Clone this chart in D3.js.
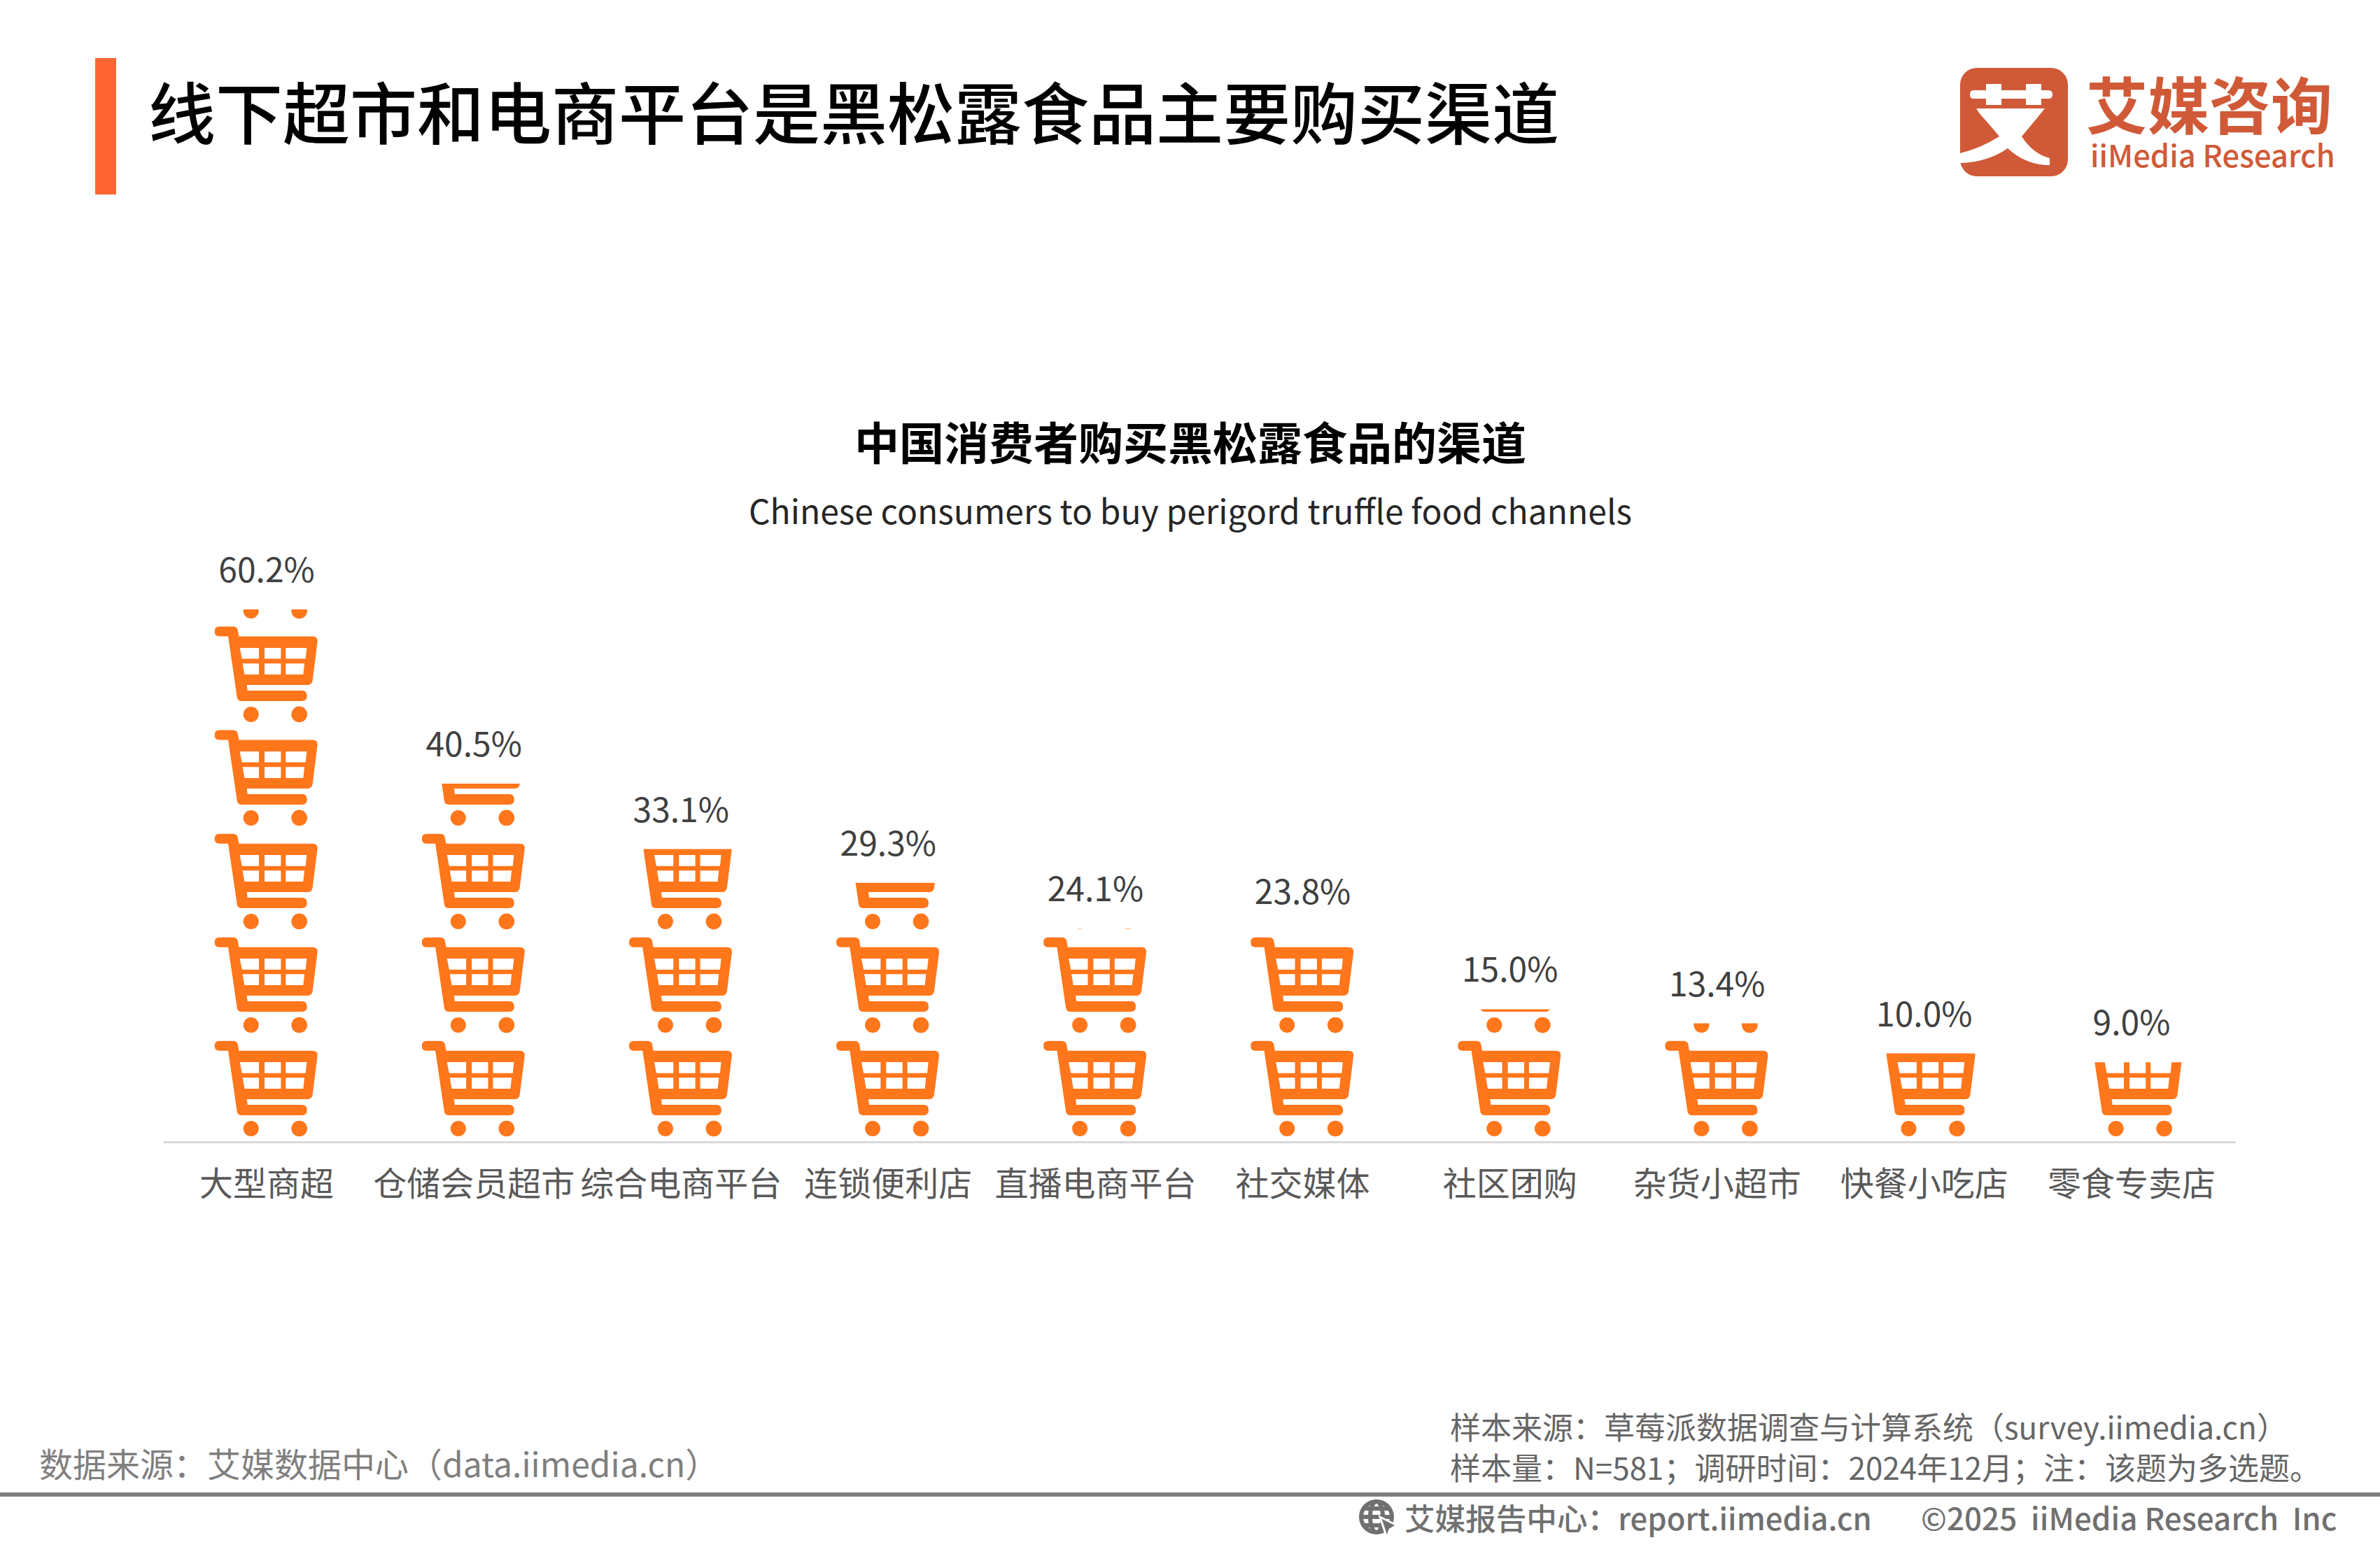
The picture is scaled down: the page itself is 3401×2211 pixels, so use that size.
<!DOCTYPE html>
<html lang="zh"><head><meta charset="utf-8">
<script src="https://cdn.jsdelivr.net/npm/d3@7/dist/d3.min.js"></script>
<style>html,body{margin:0;padding:0;background:#fff}svg{display:block}text{font-family:"Noto Sans CJK SC","Noto Sans",sans-serif}</style>
</head><body><svg id="c" width="3401" height="2211" viewBox="0 0 3401 2211"></svg>
<script>
const categories = ["大型商超","仓储会员超市","综合电商平台","连锁便利店","直播电商平台","社交媒体","社区团购","杂货小超市","快餐小吃店","零食专卖店"];
const values = [60.2,40.5,33.1,29.3,24.1,23.8,15.0,13.4,10.0,9.0];
const valueLabels = ["60.2%","40.5%","33.1%","29.3%","24.1%","23.8%","15.0%","13.4%","10.0%","9.0%"];
const titleText = "线下超市和电商平台是黑松露食品主要购买渠道";
const chartTitle = "中国消费者购买黑松露食品的渠道";
const chartSubtitle = "Chinese consumers to buy perigord truffle food channels";
const sourceLeft = "数据来源：艾媒数据中心（data.iimedia.cn）";
const sourceRight = ["样本来源：草莓派数据调查与计算系统（survey.iimedia.cn）","样本量：N=581；调研时间：2024年12月；注：该题为多选题。"];
const footerLeft = "艾媒报告中心：report.iimedia.cn";
const footerRight = "©2025  iiMedia Research  Inc";
const valuePerCart = 11.71;

const svg = d3.select("#c");
svg.append("rect").attr("width",3401).attr("height",2211).attr("fill","#fff");

// header
svg.append("rect").attr("x",136).attr("y",83).attr("width",30).attr("height",195).attr("fill","#FF6633");
svg.append("text").attr("x",212).attr("y",198).attr("font-size",96).attr("font-weight",500).attr("fill","#000").text(titleText);

// logo
const logo = svg.append("g");
logo.append("rect").attr("x",2801).attr("y",97).attr("width",154).attr("height",155).attr("rx",24).attr("fill","#D05A38");
logo.append("path").attr("fill","#fff").attr("d",
 "M2820 129H2838V120H2860V129H2895V120H2917V129H2927Q2933 129 2933 135Q2933 141 2927 141H2917V150H2895V141H2860V150H2838V141H2820Q2815 141 2815 135Q2815 129 2820 129Z"+
 "M2824 155H2922Q2910 170 2889 195Q2905 220 2929 226V236Q2895 236 2869 212Q2840 232 2801 233V219Q2830 212 2857 195Q2843 178 2832 166Q2828 162 2824 155Z");
logo.append("text").attr("x",2981).attr("y",184).attr("font-size",88).attr("font-weight",700).attr("fill","#D05A38").text("艾媒咨询");
logo.append("text").attr("x",2987).attr("y",239).attr("font-size",43.5).attr("font-weight",500).attr("fill","#D05A38").text("iiMedia Research");

// titles
svg.append("text").attr("x",1701).attr("y",657).attr("text-anchor","middle").attr("font-size",64).attr("font-weight",700).attr("fill","#000").text(chartTitle);
svg.append("text").attr("x",1701).attr("y",749).attr("text-anchor","middle").attr("font-size",48).attr("fill","#262626").text(chartSubtitle);

// scales
const x = d3.scaleBand().domain(categories).range([233,3194]);
const y = d3.scaleLinear().domain([0,100]).range([1632,368]);

// axis
const axis = svg.append("g").attr("transform",`translate(0,${y(0)})`).call(d3.axisBottom(x).tickSize(0).tickPadding(43));
axis.select(".domain").attr("stroke","#D9D9D9").attr("stroke-width",3);
axis.selectAll("text").attr("font-size",48).attr("fill","#595959").attr("font-family",'"Noto Sans CJK SC",sans-serif');

// cart symbol (local coordinates centred at the cart, bottom of the slot = 0)
const cartPath =
 "M100 145H160Q178 145 180 165L184 187H500Q522 187 521 208L500 375Q497 395 480 395H218L221 419H455Q476 419 476 442Q476 464 455 464H195Q178 464 176 447L138 187H100Q80 187 80 166Q80 145 100 145Z"+
 "M188 236H270V283H197Z M294 236H364V283H294Z M385 236H475L470 283H385Z"+
 "M200 303H270V350H208Z M294 303H364V350H294Z M385 303H465L460 350H385Z"+
 "M203 521A33 33 0 1 0 269 521A33 33 0 1 0 203 521Z M409 521A34 34 0 1 0 477 521A34 34 0 1 0 409 521Z";
const defs = svg.append("defs");
defs.append("path").attr("id","cart").attr("fill-rule","evenodd").attr("d",cartPath)
    .attr("transform","translate(-100,-192.67) scale(0.3333)");

const columns = svg.selectAll("g.col").data(categories.map((c,i)=>({c,v:values[i],l:valueLabels[i],i}))).join("g").attr("class","col");
columns.each(function(d){
  const g = d3.select(this);
  const cx = x(d.c)+x.bandwidth()/2;
  defs.append("clipPath").attr("id","clip"+d.i).append("rect")
    .attr("x",x(d.c)).attr("width",x.bandwidth()).attr("y",y(d.v)).attr("height",y(0)-y(d.v));
  const n = Math.ceil(d.v/valuePerCart);
  g.append("g").attr("clip-path",`url(#clip${d.i})`)
   .selectAll("use").data(d3.range(n)).join("use").attr("href","#cart").attr("fill","#FF761B")
   .attr("transform",k=>`translate(${cx-1},${y(k*valuePerCart)})`);
  g.append("text").attr("x",cx).attr("y",y(d.v)-39).attr("text-anchor","middle").attr("font-size",48).attr("fill","#404040").text(d.l);
});

// footer
svg.append("text").attr("x",56).attr("y",2111).attr("font-size",48).attr("fill","#7F7F7F").text(sourceLeft);
svg.selectAll("text.sr").data(sourceRight).join("text").attr("class","sr").attr("x",2072)
   .attr("y",(d,i)=>2057+i*58).attr("font-size",44).attr("fill","#666").text(d=>d);
svg.append("rect").attr("x",0).attr("y",2133).attr("width",3401).attr("height",6).attr("fill","#7F7F7F");
const globe = svg.append("g").attr("fill","none").attr("stroke","#707070").attr("stroke-width",6);
globe.append("circle").attr("cx",1967).attr("cy",2168).attr("r",22);
globe.append("ellipse").attr("cx",1967).attr("cy",2168).attr("rx",9).attr("ry",22);
globe.append("path").attr("d","M1945 2168H1989M1949 2156H1985M1949 2180H1985");
globe.append("path").attr("d","M1972 2168L1996 2180L1986 2186L1982 2198Z").attr("fill","#707070").attr("stroke","#fff").attr("stroke-width",3);
svg.append("text").attr("x",2007).attr("y",2187).attr("font-size",43.6).attr("font-weight",500).attr("fill","#707070").text(footerLeft);
svg.append("text").attr("x",2745).attr("y",2187).attr("font-size",44).attr("font-weight",500).attr("fill","#707070").style("white-space","pre").text(footerRight);
</script></body></html>
